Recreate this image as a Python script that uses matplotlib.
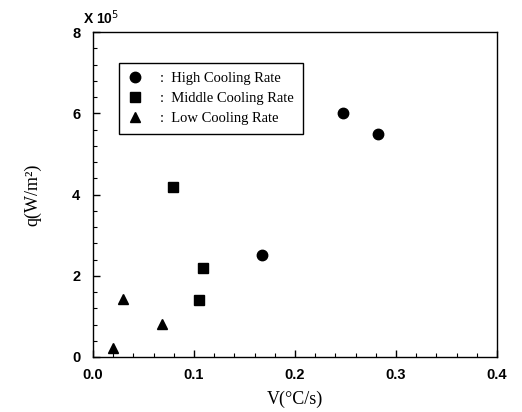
import matplotlib
matplotlib.use("Agg")
import matplotlib.pyplot as plt
from matplotlib.ticker import MultipleLocator

high_v = [0.167, 0.248, 0.282]
high_q = [2.5, 6.0, 5.5]
mid_v = [0.079, 0.109, 0.105]
mid_q = [4.18, 2.2, 1.4]
low_v = [0.030, 0.068, 0.020]
low_q = [1.42, 0.82, 0.22]
labels = [":  High Cooling Rate", ":  Middle Cooling Rate", ":  Low Cooling Rate"]

fig = plt.figure(figsize=(5.22, 4.12), dpi=100)
ax = fig.add_axes([0.178, 0.1335, 0.774, 0.7885])

ax.plot(high_v, high_q, 'o', color='black', markersize=7.5, linestyle='none', label=labels[0])
ax.plot(mid_v, mid_q, 's', color='black', markersize=6.5, linestyle='none', label=labels[1])
ax.plot(low_v, low_q, '^', color='black', markersize=7, linestyle='none', label=labels[2])

ax.set_xlim(0, 0.4)
ax.set_ylim(0, 8)
ax.xaxis.set_major_locator(MultipleLocator(0.1))
ax.xaxis.set_minor_locator(MultipleLocator(0.02))
ax.yaxis.set_major_locator(MultipleLocator(2))
ax.yaxis.set_minor_locator(MultipleLocator(0.4))
ax.tick_params(which='both', direction='in', top=False, right=False)
ax.tick_params(which='major', length=5, width=1)
ax.tick_params(which='minor', length=3, width=0.8)
ax.tick_params(axis='x', which='major', pad=8)
ax.tick_params(axis='y', which='major', pad=9)
ax.xaxis.set_major_formatter(plt.FuncFormatter(lambda v, p: f"{v:.1f}"))
ax.yaxis.set_major_formatter(plt.FuncFormatter(lambda v, p: f"{v:.0f}"))
for lab in ax.get_xticklabels() + ax.get_yticklabels():
    lab.set_fontfamily('Liberation Sans')
    lab.set_fontsize(10.5)
    lab.set_fontweight('bold')
for s in ax.spines.values():
    s.set_linewidth(1.0)

ax.set_xlabel("V(°C/s)", fontfamily='Liberation Serif', fontsize=13, labelpad=6)
ax.set_ylabel("q(W/m²)", fontfamily='Liberation Serif', fontsize=13, labelpad=22)

fig.text(83/522, 1 - 18/412, r"X 10$^5$", fontfamily='Liberation Sans', fontsize=10,
         fontweight='bold', va='center', ha='left')

leg = ax.legend(loc='upper left', bbox_to_anchor=(0.047, 0.926), frameon=True,
                fancybox=False, edgecolor='black', framealpha=1,
                prop={'family': 'Liberation Serif', 'size': 10.5},
                handletextpad=1.2, labelspacing=0.45, borderpad=0.6, handlelength=1.0)
leg.get_frame().set_linewidth(1.0)

fig.savefig("out.png", dpi=100)
